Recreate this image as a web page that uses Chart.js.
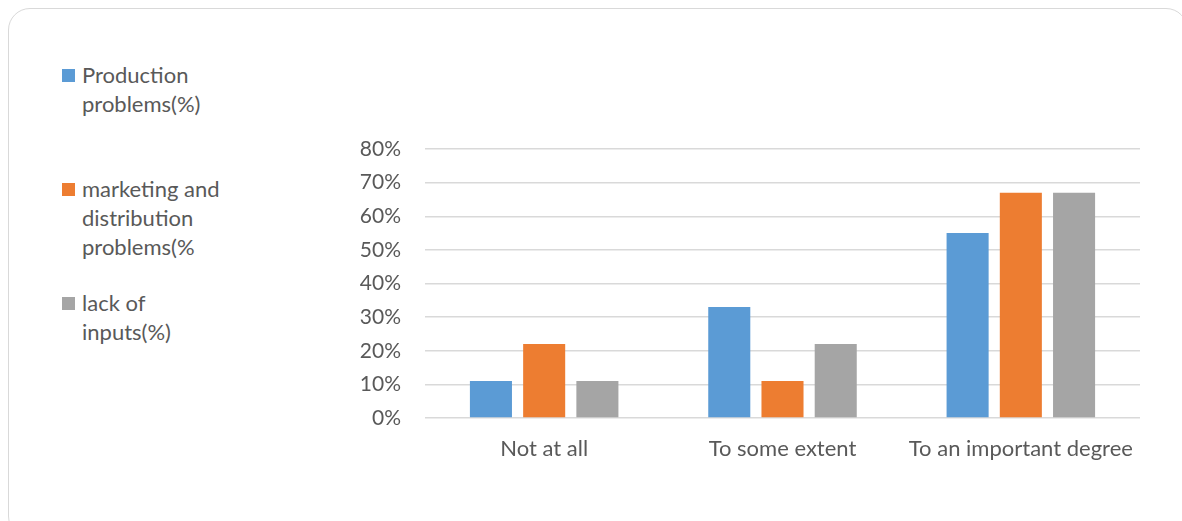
<!DOCTYPE html>
<html>
<head>
<meta charset="utf-8">
<script src="https://cdn.jsdelivr.net/npm/chart.js@4.4.0/dist/chart.umd.min.js"></script>
<style>
    body { margin: 0; background: #fff; width: 1182px; height: 521px; overflow: hidden; position: relative; font-family: Lato, "Open Sans", sans-serif; }
    .frame { position: absolute; left: 8px; top: 8px; width: 1180px; height: 530px; border: 1px solid #d9d9d9; border-radius: 22px; box-sizing: border-box; }
    .legend { position: absolute; left: 62px; top: 60px; width: 190px; color: #595959; font-size: 22px; line-height: 29px; }
    .legend-item { position: relative; padding-left: 20px; height: 114px; }
    .legend-item .swatch { position: absolute; left: 0; top: 9px; width: 13px; height: 13px; }
    #wrap { position: absolute; left: 0; top: 0; width: 1182px; height: 521px; }
</style>
</head>
<body>
<div class="frame"></div>
<div id="legend" class="legend"></div>
<div id="wrap"><canvas id="chart"></canvas></div>
<script>
// --- Data ---
const categories = ['Not at all', 'To some extent', 'To an important degree'];
const seriesNames = ['Production problems(%)', 'marketing and distribution problems(%', 'lack of inputs(%)'];
const legendLines = [
    ['Production', 'problems(%)'],
    ['marketing and', 'distribution', 'problems(%'],
    ['lack of', 'inputs(%)']
];
const production = [11, 33, 55];
const marketing = [22, 11, 67];
const inputs = [11, 22, 67];
const yTicks = [0, 10, 20, 30, 40, 50, 60, 70, 80];
const colors = ['#5B9BD5', '#ED7D31', '#A5A5A5'];

// --- Legend (HTML so the text can wrap like the original) ---
const legendEl = document.getElementById('legend');
seriesNames.forEach((name, i) => {
    const item = document.createElement('div');
    item.className = 'legend-item';
    item.innerHTML = `<span class="swatch" style="background:${colors[i]}"></span>` + legendLines[i].join('<br>');
    legendEl.appendChild(item);
});

// --- Chart ---
const tickColor = '#595959';
const gridColor = '#d9d9d9';
const ctx = document.getElementById('chart').getContext('2d');
new Chart(ctx, {
    type: 'bar',
    data: {
        labels: categories,
        datasets: [production, marketing, inputs].map((data, i) => ({
            label: seriesNames[i],
            data: data,
            backgroundColor: colors[i],
            borderWidth: 0,
            categoryPercentage: 0.67,
            barPercentage: 0.79
        }))
    },
    options: {
        responsive: true,
        maintainAspectRatio: false,
        animation: false,
        layout: { padding: { left: 330, right: 42, top: 149, bottom: 0 } },
        plugins: { legend: { display: false }, tooltip: { enabled: false } },
        scales: {
            x: {
                grid: { display: false },
                border: { display: false },
                ticks: { color: tickColor, font: { family: 'Lato', size: 22 }, padding: 10, maxRotation: 0 },
                afterFit: (scale) => { scale.height = 103; }
            },
            y: {
                min: 0,
                max: 80,
                afterBuildTicks: (scale) => { scale.ticks = yTicks.map(v => ({ value: v })); },
                grid: { color: gridColor, lineWidth: 1.5, drawTicks: false },
                border: { display: false },
                ticks: { color: tickColor, font: { family: 'Lato', size: 21 }, padding: 24, callback: v => v + '%' },
                afterFit: (scale) => { scale.width = 95; }
            }
        }
    }
});
</script>
</body>
</html>
